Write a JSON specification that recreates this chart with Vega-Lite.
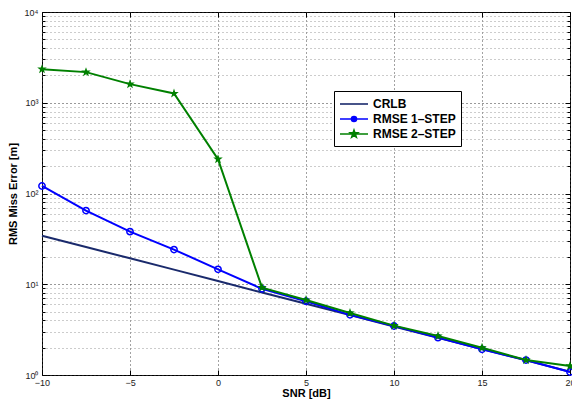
{
  "$schema": "https://vega.github.io/schema/vega-lite/v6.json",
  "width": 528,
  "height": 363,
  "autosize": {"type": "none"},
  "padding": {"left": 42, "top": 12, "right": 2, "bottom": 33},
  "background": "white",
  "config": {
    "view": {"stroke": "black", "strokeWidth": 1},
    "font": "Liberation Sans",
    "axis": {
      "labelFont": "Liberation Sans",
      "labelFontSize": 9,
      "labelColor": "#222",
      "titleFont": "Liberation Sans",
      "titleFontSize": 11,
      "titleFontWeight": "bold",
      "titleColor": "black",
      "domain": false,
      "tickColor": "black",
      "gridDash": [1, 3],
      "gridWidth": 1
    }
  },
  "datasets": {
    "d": [
      {"snr": -10, "value": 34.3, "series": "CRLB"},
      {"snr": -7.5, "value": 25.7, "series": "CRLB"},
      {"snr": -5, "value": 19.3, "series": "CRLB"},
      {"snr": -2.5, "value": 14.5, "series": "CRLB"},
      {"snr": 0, "value": 10.85, "series": "CRLB"},
      {"snr": 2.5, "value": 8.1, "series": "CRLB"},
      {"snr": 5, "value": 6.1, "series": "CRLB"},
      {"snr": 7.5, "value": 4.57, "series": "CRLB"},
      {"snr": 10, "value": 3.43, "series": "CRLB"},
      {"snr": 12.5, "value": 2.57, "series": "CRLB"},
      {"snr": 15, "value": 1.93, "series": "CRLB"},
      {"snr": 17.5, "value": 1.45, "series": "CRLB"},
      {"snr": 20, "value": 1.085, "series": "CRLB"},
      {"snr": -10, "value": 121, "series": "RMSE 1–STEP"},
      {"snr": -7.5, "value": 64.8, "series": "RMSE 1–STEP"},
      {"snr": -5, "value": 38, "series": "RMSE 1–STEP"},
      {"snr": -2.5, "value": 24.1, "series": "RMSE 1–STEP"},
      {"snr": 0, "value": 14.6, "series": "RMSE 1–STEP"},
      {"snr": 2.5, "value": 8.9, "series": "RMSE 1–STEP"},
      {"snr": 5, "value": 6.5, "series": "RMSE 1–STEP"},
      {"snr": 7.5, "value": 4.6, "series": "RMSE 1–STEP"},
      {"snr": 10, "value": 3.47, "series": "RMSE 1–STEP"},
      {"snr": 12.5, "value": 2.58, "series": "RMSE 1–STEP"},
      {"snr": 15, "value": 1.92, "series": "RMSE 1–STEP"},
      {"snr": 17.5, "value": 1.46, "series": "RMSE 1–STEP"},
      {"snr": 20, "value": 1.08, "series": "RMSE 1–STEP"},
      {"snr": -10, "value": 2345, "series": "RMSE 2–STEP"},
      {"snr": -7.5, "value": 2175, "series": "RMSE 2–STEP"},
      {"snr": -5, "value": 1603, "series": "RMSE 2–STEP"},
      {"snr": -2.5, "value": 1264, "series": "RMSE 2–STEP"},
      {"snr": 0, "value": 239, "series": "RMSE 2–STEP"},
      {"snr": 2.5, "value": 9.18, "series": "RMSE 2–STEP"},
      {"snr": 5, "value": 6.7, "series": "RMSE 2–STEP"},
      {"snr": 7.5, "value": 4.83, "series": "RMSE 2–STEP"},
      {"snr": 10, "value": 3.5, "series": "RMSE 2–STEP"},
      {"snr": 12.5, "value": 2.69, "series": "RMSE 2–STEP"},
      {"snr": 15, "value": 2.0, "series": "RMSE 2–STEP"},
      {"snr": 17.5, "value": 1.46, "series": "RMSE 2–STEP"},
      {"snr": 20, "value": 1.26, "series": "RMSE 2–STEP"}
    ]
  },
  "data": {"name": "d"},
  "layer": [
    {
      "encoding": {
        "x": {
          "field": "snr", "type": "quantitative",
          "scale": {"domain": [-10, 20], "nice": false, "zero": false},
          "axis": {
            "title": "SNR [dB]",
            "values": [-10, -5, 0, 5, 10, 15, 20],
            "tickSize": -5,
            "labelPadding": 8,
            "titlePadding": 0,
            "gridColor": "#444",
            "labelFlush": false
          }
        },
        "y": {
          "field": "value", "type": "quantitative",
          "scale": {"type": "log", "domain": [1, 10000], "nice": false},
          "axis": {
            "title": "RMS Miss Error [m]",
            "values": [1,2,3,4,5,6,7,8,9,10,20,30,40,50,60,70,80,90,100,200,300,400,500,600,700,800,900,1000,2000,3000,4000,5000,6000,7000,8000,9000,10000],
            "labelExpr": "datum.value==1?'10⁰':datum.value==10?'10¹':datum.value==100?'10²':datum.value==1000?'10³':datum.value==10000?'10⁴':''",
            "labelOverlap": false,
            "labelFlush": false,
            "tickSize": {"condition": {"test": "indexof([1,10,100,1000,10000], datum.value) >= 0", "value": -5}, "value": -3},
            "gridColor": {"condition": {"test": "indexof([1,10,100,1000,10000], datum.value) >= 0", "value": "#333"}, "value": "#999"},
            "labelPadding": 9,
            "titlePadding": 6
          }
        },
        "color": {
          "field": "series", "type": "nominal",
          "scale": {"domain": ["CRLB", "RMSE 1–STEP", "RMSE 2–STEP"], "range": ["#1a2a6c", "#0000ff", "#008000"]},
          "legend": {
            "title": null,
            "orient": "none",
            "legendX": 292,
            "legendY": 79,
            "fillColor": "white",
            "strokeColor": "black",
            "padding": 5,
            "rowPadding": 1,
            "symbolSize": 196,
            "symbolType": "stroke",
            "symbolStrokeWidth": 1.6,
            "labelOffset": 18,
            "labelFont": "Liberation Sans",
            "labelFontSize": 12,
            "labelFontWeight": "bold",
            "labelColor": "black",
            "encode": {
              "symbols": {
                "update": {
                  "shape": {"signal": "datum.value=='CRLB' ? 'M-1,0L3,0' : datum.value=='RMSE 1–STEP' ? 'M-1,0L3,0M1.36,0A0.36,0.36 0 1,1 0.64,0A0.36,0.36 0 1,1 1.36,0Z' : 'M-1,0L3,0M1,-0.55L1.129,-0.178L1.523,-0.17L1.209,0.068L1.323,0.445L1,0.22L0.677,0.445L0.791,0.068L0.477,-0.17L0.871,-0.178Z'"},
                  "fill": {"signal": "datum.value=='RMSE 2–STEP' ? '#008000' : 'transparent'"},
                  "stroke": {"signal": "datum.value=='CRLB' ? '#1a2a6c' : datum.value=='RMSE 1–STEP' ? '#0000ff' : '#008000'"},
                  "strokeWidth": {"value": 1.6},
                  "opacity": {"value": 1}
                }
              }
            }
          }
        }
      },
      "layer": [
        {"transform": [{"filter": "datum.series=='CRLB'"}], "mark": {"type": "line", "strokeWidth": 2}},
        {"transform": [{"filter": "datum.series=='RMSE 1–STEP'"}], "mark": {"type": "line", "strokeWidth": 2}},
        {"transform": [{"filter": "datum.series=='RMSE 1–STEP'"}], "mark": {"type": "point", "shape": "circle", "filled": false, "size": 40, "strokeWidth": 1.5, "opacity": 1}},
        {"transform": [{"filter": "datum.series=='RMSE 2–STEP'"}], "mark": {"type": "line", "strokeWidth": 2}},
        {"transform": [{"filter": "datum.series=='RMSE 2–STEP'"}], "mark": {"type": "point", "shape": "M0,-1L0.235,-0.324L0.951,-0.309L0.38,0.124L0.588,0.809L0,0.4L-0.588,0.809L-0.38,0.124L-0.951,-0.309L-0.235,-0.324Z", "filled": true, "size": 100, "strokeWidth": 1, "opacity": 1}}
      ]
    },
    {
      "mark": {"type": "point", "opacity": 0},
      "encoding": {
        "x": {
          "field": "snr", "type": "quantitative",
          "scale": {"domain": [-10, 20], "nice": false, "zero": false},
          "axis": {"orient": "top", "title": null, "labels": false, "grid": false, "values": [-10, -5, 0, 5, 10, 15, 20], "tickSize": -5}
        },
        "y": {
          "field": "value", "type": "quantitative",
          "scale": {"type": "log", "domain": [1, 10000], "nice": false},
          "axis": {
            "orient": "right", "title": null, "labels": false, "grid": false,
            "values": [1,2,3,4,5,6,7,8,9,10,20,30,40,50,60,70,80,90,100,200,300,400,500,600,700,800,900,1000,2000,3000,4000,5000,6000,7000,8000,9000,10000],
            "tickSize": {"condition": {"test": "indexof([1,10,100,1000,10000], datum.value) >= 0", "value": -5}, "value": -3}
          }
        }
      }
    }
  ],
  "resolve": {"scale": {"x": "independent", "y": "independent"}}
}
